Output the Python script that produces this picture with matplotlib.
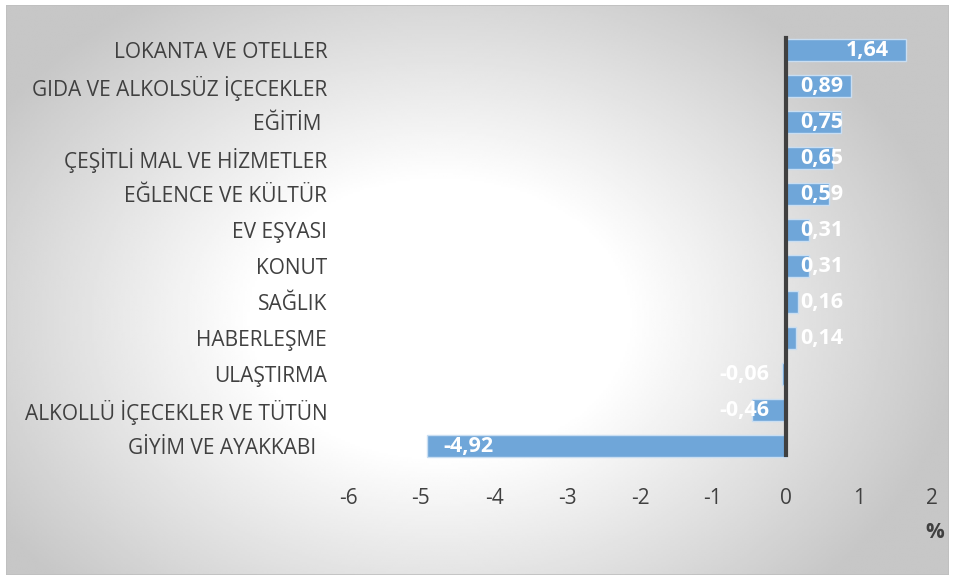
import numpy as np
import matplotlib.pyplot as plt
from matplotlib.patches import Rectangle

categories = ['LOKANTA VE OTELLER', 'GIDA VE ALKOLSÜZ İÇECEKLER', 'EĞİTİM ',
              'ÇEŞİTLİ MAL VE HİZMETLER', 'EĞLENCE VE KÜLTÜR', 'EV EŞYASI',
              'KONUT', 'SAĞLIK', 'HABERLEŞME', 'ULAŞTIRMA',
              'ALKOLLÜ İÇECEKLER VE TÜTÜN', 'GİYİM VE AYAKKABI  ']
values = [1.64, 0.89, 0.75, 0.65, 0.59, 0.31, 0.31, 0.16, 0.14, -0.06, -0.46, -4.92]
labels = ['1,64', '0,89', '0,75', '0,65', '0,59', '0,31', '0,31', '0,16', '0,14',
          '-0,06', '-0,46', '-4,92']
xticks = [-6, -5, -4, -3, -2, -1, 0, 1, 2]

plt.rcParams['font.family'] = ['Open Sans', 'DejaVu Sans']

fig = plt.figure(figsize=(9.55, 5.8), dpi=100)

# radial gradient background
bg = fig.add_axes([0, 0, 1, 1], zorder=-10)
xx, yy = np.meshgrid(np.linspace(0, 1, 400), np.linspace(0, 1, 300))
r = np.sqrt(((xx - 0.46) / 0.7) ** 2 + ((yy - 0.55) / 0.85) ** 2)
shade = 1 - 0.22 * np.clip((r - 0.28) / 0.5, 0, 1)
bg.imshow(shade, cmap='gray', vmin=0, vmax=1, extent=[0, 1, 0, 1],
          aspect='auto', interpolation='bilinear')
bg.set_xlim(0, 1)
bg.set_ylim(0, 1)
bg.axis('off')
bg.add_patch(Rectangle((0.006, 0.008), 0.988, 0.984, fill=False,
                       edgecolor='#bfbfbf', linewidth=1.2))
# white outer frame
for rect in [(0, 0, 0.006, 1), (0.994, 0, 0.006, 1), (0, 0, 1, 0.008), (0, 0.992, 1, 0.008)]:
    bg.add_patch(Rectangle(rect[:2], rect[2], rect[3], facecolor='white', edgecolor='none'))

ax = fig.add_axes([348 / 955, 1 - 464 / 580, 584 / 955, 432 / 580])
ax.patch.set_alpha(0)
y = np.arange(len(values))
ax.barh(y, values, height=0.62, color='#6fa6d9', edgecolor='#c9def2', linewidth=1)
ax.set_ylim(len(values) - 0.5, -0.5)
ax.set_xlim(-6, 2)
ax.axvline(0, ymin=0.02, ymax=0.985, color='#404040', linewidth=3)

for yi, v, lab in zip(y, values, labels):
    if v >= 0:
        ax.text(max(v - 0.23, 0.78), yi, lab, ha='right', va='center',
                color='white', fontsize=15.5, fontweight='bold')
    elif v < -2:
        ax.text(v + 0.22, yi, lab, ha='left', va='center',
                color='white', fontsize=15.5, fontweight='bold')
    else:
        ax.text(-0.23, yi, lab, ha='right', va='center',
                color='white', fontsize=15.5, fontweight='bold')

ax.set_yticks(y)
ax.set_yticklabels(categories, fontsize=15, color='#404040')
ax.set_xticks(xticks)
ax.set_xticklabels([str(t) for t in xticks], fontsize=15, color='#404040')
ax.tick_params(axis='y', length=0, pad=15)
ax.tick_params(axis='x', length=0, pad=17)
for s in ax.spines.values():
    s.set_visible(False)

fig.text(935 / 955, 1 - 533 / 580, '%', ha='center', va='center',
         fontsize=15, fontweight='bold', color='#404040')

fig.savefig('out.png', dpi=100)
